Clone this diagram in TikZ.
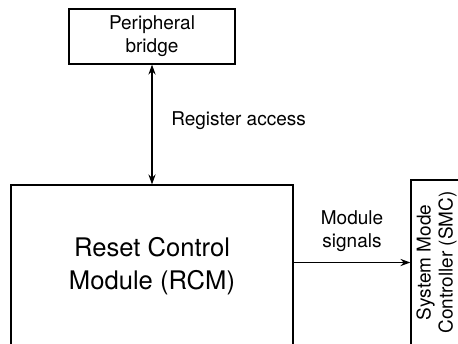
\documentclass[tikz,border=0pt]{standalone}
\usepackage{fontspec}
\setmainfont{TeX Gyre Heros}
\usetikzlibrary{arrows.meta,positioning,calc}

\begin{document}
\begin{tikzpicture}[x=0.5pt, y=-0.5pt, >={Stealth[length=5pt,width=3.6pt]},
    bloc/.style={draw, line width=0.6pt, inner sep=0pt, align=center},
    lien/.style={line width=0.6pt},
    petit/.style={font=\fontsize{9.5}{11.5}\selectfont, align=center}]

    \useasboundingbox (0,0) rectangle (458,343);

    % Pont peripherique (en haut)
    \node[bloc, petit, minimum width=83pt, minimum height=27.5pt] (bridge) at (152,36.5) {Peripheral\\bridge};

    % Module RCM (coupe en bas)
    \node[bloc, minimum width=141pt, minimum height=81pt,
          font=\fontsize{12.8}{16.5}\selectfont] (rcm) at (152,266) {Reset Control\\Module (RCM)};

    % Controleur SMC (texte vertical, coupe a droite)
    \node[bloc, petit, rotate=90, minimum width=82.5pt, minimum height=25.5pt,
          font=\fontsize{9.5}{11}\selectfont] (smc) at (436.5,262.5) {System Mode\\Controller (SMC)};

    % Liaisons
    \draw[lien, <->] (bridge.south) -- (rcm.north)
        node[petit, pos=0.47, right=6pt] (acces) {Register access};
    \draw[lien, ->] (smc.north -| rcm.east) -- (smc.north)
        node[petit, midway, above=2pt] (signaux) {Module\\signals};

\end{tikzpicture}
\end{document}
